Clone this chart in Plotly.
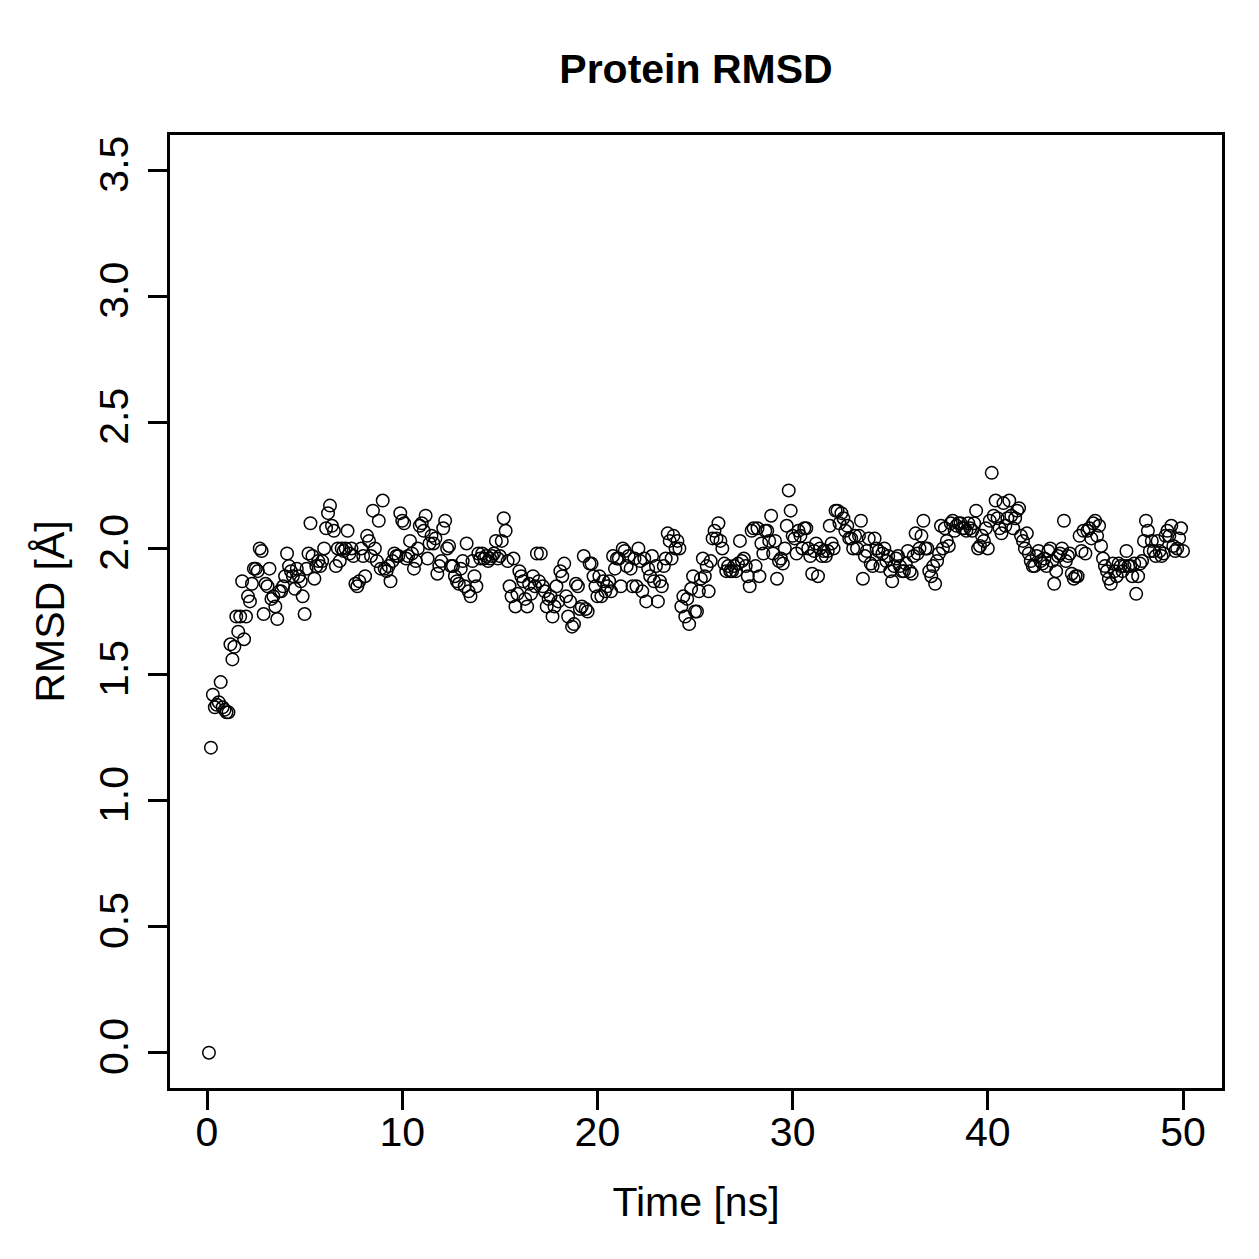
import numpy as np
import plotly.graph_objects as go

# Time axis: one frame every 0.1 ns
time_ns = np.round(np.arange(1, 501) * 0.1, 1)

# RMSD values (Å), one row per ns
rmsd = [
    0.00, 1.21, 1.42, 1.37, 1.38, 1.39, 1.47, 1.37, 1.36, 1.35,
    1.35, 1.62, 1.56, 1.61, 1.73, 1.67, 1.73, 1.87, 1.64, 1.73,
    1.81, 1.79, 1.86, 1.92, 1.92, 1.91, 2.00, 1.99, 1.74, 1.86,
    1.85, 1.92, 1.80, 1.81, 1.77, 1.72, 1.83, 1.83, 1.85, 1.89,
    1.98, 1.93, 1.91, 1.89, 1.84, 1.92, 1.89, 1.87, 1.81, 1.74,
    1.92, 1.98, 2.10, 1.97, 1.88, 1.93, 1.95, 1.93, 1.95, 2.00,
    2.08, 2.14, 2.17, 2.09, 2.07, 1.93, 2.00, 1.95, 2.00, 1.99,
    2.00, 2.07, 1.98, 2.00, 1.97, 1.86, 1.85, 1.87, 2.00, 1.97,
    1.89, 2.05, 2.03, 1.97, 2.15, 2.00, 1.95, 2.11, 1.92, 2.19,
    1.92, 1.91, 1.93, 1.87, 1.95, 1.98, 1.97, 1.97, 2.14, 2.11,
    2.10, 1.96, 1.97, 2.03, 1.98, 1.92, 1.95, 2.00, 2.09, 2.10,
    2.07, 2.13, 1.96, 2.02, 2.05, 2.02, 2.04, 1.90, 1.93, 1.95,
    2.08, 2.11, 2.00, 2.01, 1.93, 1.93, 1.89, 1.87, 1.86, 1.92,
    1.95, 1.85, 2.02, 1.83, 1.81, 1.95, 1.89, 1.85, 1.98, 1.96,
    1.98, 1.96, 1.97, 1.95, 1.96, 1.97, 1.98, 2.03, 1.96, 1.97,
    2.03, 2.12, 2.07, 1.95, 1.85, 1.81, 1.96, 1.77, 1.82, 1.91,
    1.89, 1.87, 1.80, 1.77, 1.86, 1.82, 1.89, 1.85, 1.98, 1.87,
    1.98, 1.85, 1.83, 1.77, 1.80, 1.81, 1.73, 1.77, 1.85, 1.79,
    1.91, 1.89, 1.94, 1.81, 1.73, 1.79, 1.69, 1.70, 1.86, 1.85,
    1.76, 1.77, 1.97, 1.76, 1.75, 1.94, 1.94, 1.89, 1.85, 1.81,
    1.89, 1.81, 1.87, 1.83, 1.85, 1.87, 1.83, 1.97, 1.92, 1.96,
    1.96, 1.85, 2.00, 1.99, 1.93, 1.97, 1.92, 1.85, 1.96, 1.85,
    2.00, 1.95, 1.83, 1.96, 1.79, 1.92, 1.89, 1.97, 1.87, 1.93,
    1.79, 1.87, 1.85, 1.93, 1.96, 2.06, 2.03, 1.96, 2.05, 2.00,
    2.03, 2.00, 1.77, 1.81, 1.73, 1.80, 1.70, 1.84, 1.89, 1.75,
    1.75, 1.83, 1.88, 1.96, 1.89, 1.93, 1.83, 1.95, 2.04, 2.07,
    2.04, 2.10, 2.03, 2.00, 1.94, 1.91, 1.93, 1.91, 1.91, 1.93,
    1.91, 1.94, 2.03, 1.95, 1.96, 1.93, 1.89, 1.85, 2.07, 2.08,
    1.93, 2.08, 1.89, 2.02, 1.98, 2.07, 2.07, 2.03, 2.13, 1.98,
    2.03, 1.88, 1.95, 1.96, 1.94, 2.00, 2.09, 2.23, 2.15, 2.05,
    2.04, 1.98, 2.07, 2.05, 2.00, 2.08, 2.08, 2.00, 1.97, 1.90,
    1.99, 2.02, 1.89, 2.00, 1.97, 1.99, 1.97, 1.99, 2.09, 2.02,
    2.00, 2.15, 2.15, 2.10, 2.14, 2.12, 2.07, 2.09, 2.04, 2.04,
    2.00, 2.05, 2.00, 2.05, 2.11, 1.88, 1.97, 1.99, 2.04, 1.94,
    1.93, 2.04, 2.00, 1.99, 1.93, 1.98, 2.00, 1.95, 1.97, 1.91,
    1.87, 1.93, 1.96, 1.97, 1.93, 1.91, 1.91, 1.94, 1.99, 1.91,
    1.90, 1.97, 2.06, 1.98, 2.00, 2.05, 2.11, 2.00, 2.00, 1.91,
    1.89, 1.93, 1.86, 1.95, 1.98, 2.09, 2.00, 2.08, 2.03, 2.01,
    2.10, 2.11, 2.07, 2.09, 2.10, 2.10, 2.08, 2.08, 2.07, 2.10,
    2.08, 2.07, 2.10, 2.15, 2.00, 2.01, 2.05, 2.03, 2.08, 2.00,
    2.11, 2.30, 2.13, 2.19, 2.12, 2.08, 2.06, 2.18, 2.09, 2.12,
    2.19, 2.13, 2.08, 2.12, 2.15, 2.16, 2.05, 2.03, 2.00, 2.06,
    1.98, 1.95, 1.93, 1.93, 1.97, 1.99, 1.95, 1.94, 1.96, 1.93,
    1.99, 2.00, 1.95, 1.86, 1.91, 1.97, 1.98, 2.00, 2.11, 1.95,
    1.97, 1.98, 1.90, 1.88, 1.89, 1.89, 2.05, 1.99, 2.07, 1.98,
    2.07, 2.08, 2.04, 2.10, 2.11, 2.05, 2.09, 2.01, 1.96, 1.93,
    1.91, 1.88, 1.86, 1.94, 1.91, 1.89, 1.94, 1.93, 1.91, 1.93,
    1.99, 1.93, 1.93, 1.89, 1.94, 1.82, 1.89, 1.94, 1.95, 2.03,
    2.11, 2.07, 1.99, 2.03, 1.99, 1.97, 2.03, 1.99, 1.97, 1.98,
    2.05, 2.07, 2.05, 2.09, 2.01, 1.99, 2.00, 2.04, 2.08, 1.99,
]

x_ticks = [0, 10, 20, 30, 40, 50]
y_ticks = [0.0, 0.5, 1.0, 1.5, 2.0, 2.5, 3.0, 3.5]
y_tick_labels = ["0.0", "0.5", "1.0", "1.5", "2.0", "2.5", "3.0", "3.5"]

FONT = "Liberation Sans, Arial, Helvetica, sans-serif"

fig = go.Figure()
fig.add_trace(go.Scatter(
    x=time_ns, y=rmsd, mode="markers",
    marker=dict(symbol="circle-open", size=12.5, color="black",
                line=dict(width=1.5, color="black")),
    showlegend=False, hoverinfo="x+y",
))

axis_common = dict(
    showline=True, linecolor="black", linewidth=2.7, mirror=True,
    ticks="outside", ticklen=19, tickwidth=2.7, tickcolor="black",
    showgrid=False, zeroline=False,
    tickfont=dict(family=FONT, size=41, color="black"),
)

fig.update_layout(
    width=1259, height=1259,
    margin=dict(l=170, r=37, t=135, b=171),
    paper_bgcolor="white", plot_bgcolor="white",
    title=dict(text="<b>Protein RMSD</b>", x=0.5528, xanchor="center",
               y=1 - 69 / 1259, yref="container", yanchor="middle",
               font=dict(family=FONT, size=41, color="black")),
    xaxis=dict(
        range=[-1.896, 51.996], tickmode="array", tickvals=x_ticks,
        ticktext=[str(v) for v in x_ticks], ticklabelstandoff=-13,
        title=dict(text="Time [ns]", standoff=34,
                   font=dict(family=FONT, size=41, color="black")),
        **axis_common,
    ),
    yaxis=dict(
        range=[-0.14, 3.64], tickmode="array", tickvals=y_ticks,
        ticktext=y_tick_labels, tickangle=-90, ticklabelstandoff=4,
        title=dict(text="RMSD [Å]", standoff=14,
                   font=dict(family=FONT, size=41, color="black")),
        **axis_common,
    ),
)

fig.write_html("out.html")
